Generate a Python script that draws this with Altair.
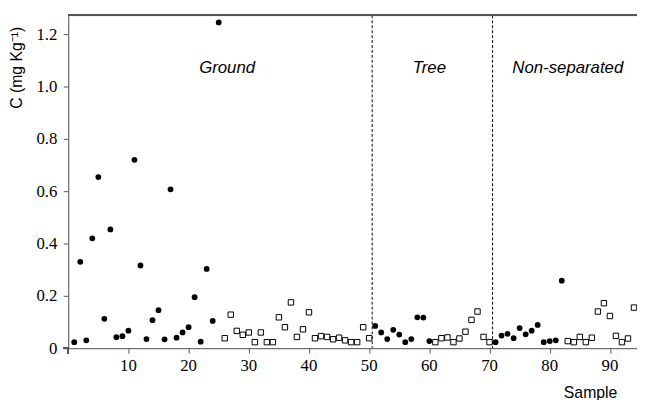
import altair as alt
import pandas as pd

samples = list(range(1, 95))
conc = [
    0.023, 0.33, 0.03, 0.42, 0.654, 0.112, 0.454, 0.042, 0.046, 0.067,
    0.72, 0.316, 0.035, 0.107, 0.145, 0.034, 0.607, 0.04, 0.06, 0.08,
    0.195, 0.025, 0.303, 0.104, 1.245, 0.038, 0.128, 0.066, 0.051, 0.06,
    0.023, 0.06, 0.023, 0.023, 0.118, 0.08, 0.175, 0.043, 0.072, 0.137,
    0.038, 0.046, 0.043, 0.034, 0.04, 0.03, 0.023, 0.023, 0.08, 0.038,
    0.085, 0.06, 0.035, 0.07, 0.052, 0.023, 0.035, 0.118, 0.117, 0.027,
    0.023, 0.038, 0.041, 0.023, 0.037, 0.063, 0.108, 0.14, 0.043, 0.023,
    0.023, 0.048, 0.055, 0.038, 0.077, 0.053, 0.067, 0.089, 0.023, 0.027,
    0.03, 0.258, 0.027, 0.023, 0.043, 0.023, 0.04, 0.14, 0.172, 0.123,
    0.047, 0.023, 0.037, 0.155,
]
solid_samples = list(range(1, 26)) + list(range(51, 61)) + list(range(71, 83))

dividers = [50.5, 70.5]
group_names = ["Ground", "Tree", "Non-separated"]
group_x = [26.4, 60.0, 83.0]
group_y = [1.05, 1.05, 1.05]

x_ticks = [10, 20, 30, 40, 50, 60, 70, 80, 90]
x_tick_labels = ["10", "20", "30", "40", "50", "60", "70", "80", "90"]
y_ticks = [0, 0.2, 0.4, 0.6, 0.8, 1.0, 1.2]
y_tick_labels = ["0", "0.2", "0.4", "0.6", "0.8", "1.0", "1.2"]

W, H = 576, 337
AX = "#555555"
SERIF = "Liberation Serif"
SANS = "Liberation Sans"

df = pd.DataFrame({"sample": samples, "conc": conc})
df["kind"] = ["solid" if s in solid_samples else "open" for s in samples]

xs = alt.Scale(domain=[0, 94.5], nice=False, zero=False)
ys = alt.Scale(domain=[0, 1.272], nice=False)

x_axis = alt.Axis(values=x_ticks, grid=False, title=None, labels=False,
                  domainColor=AX, tickColor=AX, tickSize=5)
y_axis = alt.Axis(values=y_ticks, grid=False, title=None, labels=False,
                  domainColor=AX, tickColor=AX, tickSize=5)

base = alt.Chart(df)

solid = base.transform_filter(alt.datum.kind == "solid").mark_circle(
    size=34, color="black", opacity=1
).encode(x=alt.X("sample:Q", scale=xs, axis=x_axis),
         y=alt.Y("conc:Q", scale=ys, axis=y_axis))

hollow = base.transform_filter(alt.datum.kind == "open").mark_point(
    shape="square", size=30, filled=True, fill="white", stroke="black",
    strokeWidth=1, opacity=1
).encode(x=alt.X("sample:Q", scale=xs), y=alt.Y("conc:Q", scale=ys))

div_df = pd.DataFrame({"x": dividers})
divs = alt.Chart(div_df).mark_rule(color="black", strokeDash=[3, 2], strokeWidth=1).encode(
    x=alt.X("x:Q", scale=xs)
)

lab_df = pd.DataFrame({"name": group_names, "x": group_x, "y": group_y})
labels = alt.Chart(lab_df).mark_text(
    font=SANS, fontSize=17, fontStyle="italic", color="black",
    align="center", baseline="alphabetic"
).encode(x=alt.X("x:Q", scale=xs), y=alt.Y("y:Q", scale=ys), text="name:N")

xt_df = pd.DataFrame({"v": x_ticks, "t": x_tick_labels})
x_labels = alt.Chart(xt_df).mark_text(
    font=SERIF, fontSize=17, color="black", align="center", baseline="alphabetic"
).encode(x=alt.X("v:Q", scale=xs), y=alt.value(H + 23), text="t:N")

yt_df = pd.DataFrame({"v": y_ticks, "t": y_tick_labels})
y_labels = alt.Chart(yt_df).mark_text(
    font=SERIF, fontSize=17, color="black", align="right", baseline="alphabetic", dy=5.5
).encode(y=alt.Y("v:Q", scale=ys), x=alt.value(-11), text="t:N")

top_border = alt.Chart(df).mark_rule(color=AX, strokeWidth=1).encode(
    x=alt.value(0), x2=alt.value(W), y=alt.value(0)
)
x_ext = alt.Chart(df).mark_rule(color=AX, strokeWidth=1).encode(
    x=alt.value(-5), x2=alt.value(0), y=alt.value(H)
)
y_ext = alt.Chart(df).mark_rule(color=AX, strokeWidth=1).encode(
    x=alt.value(0), y=alt.value(H), y2=alt.value(H + 5)
)

y_title = alt.Chart(pd.DataFrame({"t": ["C (mg Kg⁻¹)"]})).mark_text(
    font=SANS, fontSize=16, color="black", angle=270,
    align="center", baseline="middle"
).encode(x=alt.value(-52), y=alt.value(53), text="t:N")

x_title = alt.Chart(pd.DataFrame({"t": ["Sample"]})).mark_text(
    font=SANS, fontSize=16, color="black",
    align="center", baseline="alphabetic"
).encode(x=alt.value(529), y=alt.value(387), text="t:N")

chart = alt.layer(
    divs, top_border, x_ext, y_ext, hollow, solid, labels,
    x_labels, y_labels, y_title, x_title
).properties(
    width=W, height=H,
    autosize=alt.AutoSizeParams(type="none"),
    padding={"left": 61, "top": 5, "right": 0, "bottom": 50},
).configure_view(stroke=None).configure(background="white")

chart.save("out.html", embed_options={"renderer": "svg", "actions": False})
